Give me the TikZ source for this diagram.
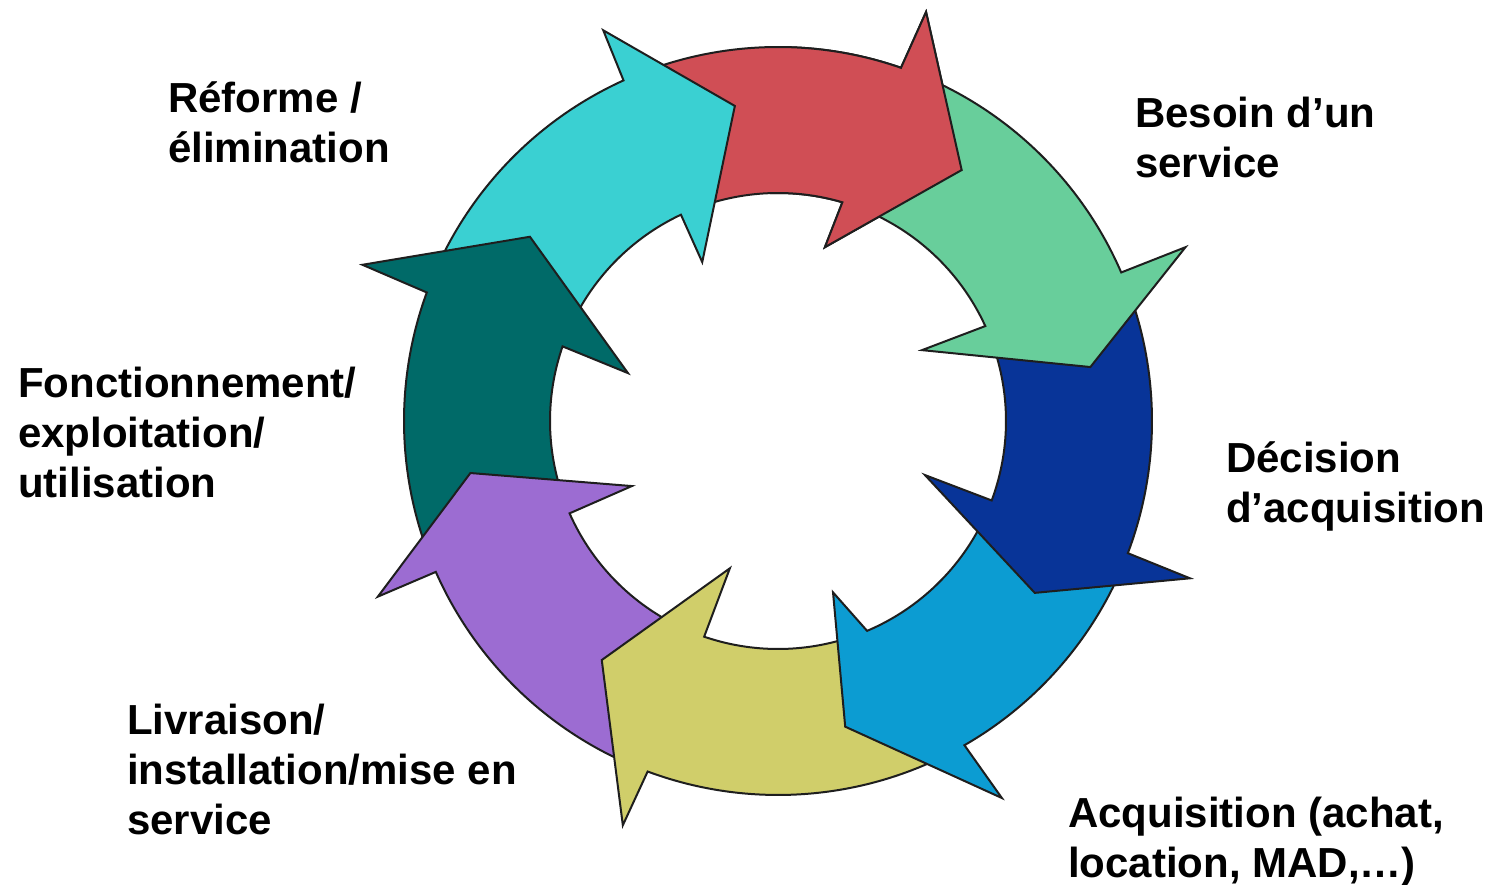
\documentclass[tikz,border=0pt]{standalone}
\usepackage{fontspec}
\setmainfont{Liberation Sans}
\definecolor{cRed}{HTML}{D04E55}
\definecolor{cGreen}{HTML}{68CE9B}
\definecolor{cDkBlue}{HTML}{083498}
\definecolor{cLtBlue}{HTML}{0C9CD2}
\definecolor{cYellow}{HTML}{D0CE6A}
\definecolor{cPurple}{HTML}{9C6CD2}
\definecolor{cTeal}{HTML}{006A68}
\definecolor{cCyan}{HTML}{3AD0D2}
\definecolor{cLine}{HTML}{1E1E1E}
\begin{document}
\begin{tikzpicture}[
  cyclearrow/.style={draw=cLine, line width=2pt, line join=miter, miter limit=6},
  lbl/.style={anchor=base west, inner sep=0pt, align=left, font=\fontsize{42}{50}\selectfont\bfseries}
]
\useasboundingbox (0,0) rectangle (1488pt,885pt);
\begin{scope}[shift={(778pt,464pt)}]
% red (drawn first, head redrawn at end)
\def\redpath{(110.4:374pt) arc[start angle=110.4, end angle=70.8, radius=374pt] -- (70.1:435pt) -- (53.8:311pt) -- (74.9:180pt) -- (73.6:228pt) arc[start angle=73.6, end angle=111.2, radius=228pt] -- cycle}
\path[cyclearrow, fill=cRed] \redpath;
% cyan
\path[cyclearrow, fill=cCyan] (155.9:374pt) arc[start angle=155.9, end angle=114.4, radius=374pt] -- (114.1:428pt) -- (97.8:318pt) -- (115.5:176pt) -- (115.2:228pt) arc[start angle=115.2, end angle=156.9, radius=228pt] -- cycle;
% teal
\path[cyclearrow, fill=cTeal] (199.8:374pt) arc[start angle=199.8, end angle=159.9, radius=374pt] -- (159.4:444pt) -- (143.4:309pt) -- (162.3:157.5pt) -- (160.9:228pt) arc[start angle=160.9, end angle=199.9, radius=228pt] -- cycle;
% purple
\path[cyclearrow, fill=cPurple] (245.6:374pt) arc[start angle=245.6, end angle=203.8, radius=374pt] -- (203.7:437pt) -- (189.6:312pt) -- (204:160pt) -- (203.9:228pt) arc[start angle=203.9, end angle=247.1, radius=228pt] -- cycle;
% yellow
\path[cyclearrow, fill=cYellow] (295.9:374pt) arc[start angle=295.9, end angle=249.6, radius=374pt] -- (249:433pt) -- (233.6:297pt) -- (251.9:155pt) -- (251.1:228pt) arc[start angle=251.1, end angle=289, radius=228pt] -- cycle;
% light blue
\path[cyclearrow, fill=cLtBlue] (-24.7:374pt) arc[start angle=-24.7, end angle=-60.1, radius=374pt] -- (-59.3:438.5pt) -- (-77.6:313pt) -- (-72.2:180pt) -- (-67:228pt) arc[start angle=-67, end angle=-24.4, radius=228pt] -- cycle;
% dark blue
\path[cyclearrow, fill=cDkBlue] (19.4:374pt) arc[start angle=19.4, end angle=-20.7, radius=374pt] -- (-20.9:441pt) -- (-33.8:309pt) -- (-20.2:156.6pt) -- (-20.4:228pt) arc[start angle=-20.4, end angle=21.1, radius=228pt] -- cycle;
% green
\path[cyclearrow, fill=cGreen] (66.8:374pt) arc[start angle=66.8, end angle=23.4, radius=374pt] -- (23.1:443pt) -- (9.8:317pt) -- (26.2:160.5pt) -- (24.6:228pt) arc[start angle=24.6, end angle=69.6, radius=228pt] -- cycle;
% red head on top of green tail
\begin{scope}
\clip (0,0) -- (40:520pt) -- (65:520pt) -- (92:520pt) -- cycle;
\path[cyclearrow, fill=cRed] \redpath;
\end{scope}
\end{scope}
\node[lbl] (reforme) at (168pt,722pt) {Réforme /\\élimination};
\node[lbl] (besoin) at (1135pt,707pt) {Besoin d’un\\service};
\node[lbl] (decision) at (1226pt,362pt) {Décision\\d’acquisition};
\node[lbl] (acquisition) at (1068pt,7pt) {Acquisition (achat,\\location, MAD,…)};
\node[lbl] (livraison) at (127pt,50pt) {Livraison/\\installation/mise en\\service};
\node[lbl] (fonction) at (18pt,387pt) {Fonctionnement/\\exploitation/\\utilisation};
\end{tikzpicture}
\end{document}
